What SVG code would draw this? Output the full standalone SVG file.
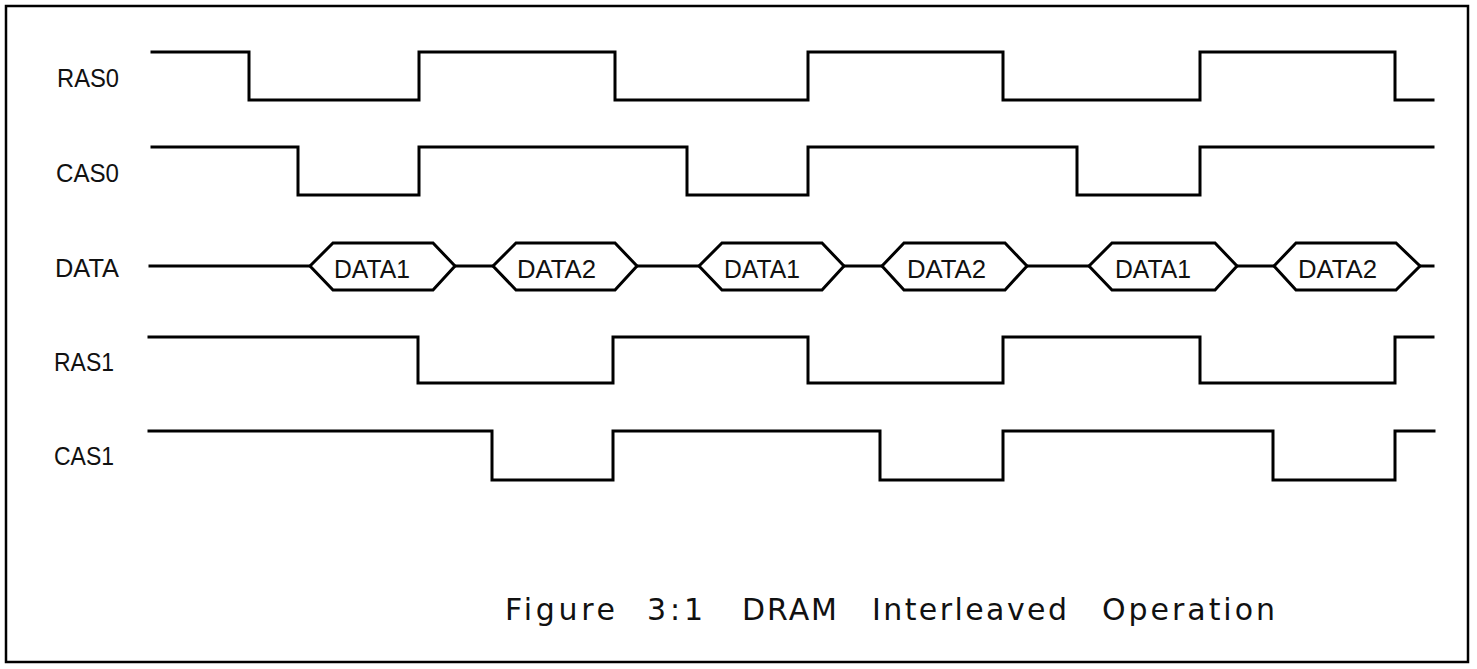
<svg xmlns="http://www.w3.org/2000/svg" width="1477" height="669" viewBox="0 0 1477 669">
<style>
.w{fill:none;stroke:#000;stroke-width:3;stroke-linejoin:miter;stroke-linecap:square}
.lbl{font-family:"Liberation Sans",Arial,sans-serif;font-size:26px;fill:#111}
.hx{fill:#fff;stroke:#000;stroke-width:3;stroke-linejoin:miter}
.cap{font-family:"DejaVu Sans",sans-serif;font-size:30px;fill:#111}
</style>
<rect x="6" y="6" width="1462" height="656" fill="#fff" stroke="#000" stroke-width="2.5"/>
<g id="ras0">
<text class="lbl" x="57" y="87" textLength="62" lengthAdjust="spacingAndGlyphs">RAS0</text>
<path class="w" d="M152,52 H249 V100 H419 V52 H615 V100 H808 V52 H1003 V100 H1200 V52 H1395 V100 H1433"/>
</g>
<g id="cas0">
<text class="lbl" x="56" y="182" textLength="63" lengthAdjust="spacingAndGlyphs">CAS0</text>
<path class="w" d="M152,147 H298 V195 H419 V147 H687 V195 H808 V147 H1077 V195 H1200 V147 H1433"/>
</g>
<g id="data">
<text class="lbl" x="55" y="277" textLength="64" lengthAdjust="spacingAndGlyphs">DATA</text>
<path class="w" d="M150,266 H310 M455,266 H493 M637,266 H699 M844,266 H882 M1027,266 H1089 M1237,266 H1274 M1420,266 H1433"/>
<g id="d1a"><polygon class="hx" points="310,266 333,243 433,243 455,266 433,290 333,290"/><text class="lbl" x="334" y="278" textLength="76" lengthAdjust="spacingAndGlyphs">DATA1</text></g>
<g id="d2a"><polygon class="hx" points="493,266 516,243 615,243 637,266 615,290 516,290"/><text class="lbl" x="517" y="278" textLength="79" lengthAdjust="spacingAndGlyphs">DATA2</text></g>
<g id="d1b"><polygon class="hx" points="699,266 722,243 822,243 844,266 822,290 722,290"/><text class="lbl" x="724" y="278" textLength="76" lengthAdjust="spacingAndGlyphs">DATA1</text></g>
<g id="d2b"><polygon class="hx" points="882,266 904,243 1005,243 1027,266 1005,290 904,290"/><text class="lbl" x="907" y="278" textLength="79" lengthAdjust="spacingAndGlyphs">DATA2</text></g>
<g id="d1c"><polygon class="hx" points="1089,266 1112,243 1215,243 1237,266 1215,290 1112,290"/><text class="lbl" x="1115" y="278" textLength="76" lengthAdjust="spacingAndGlyphs">DATA1</text></g>
<g id="d2c"><polygon class="hx" points="1274,266 1296,243 1396,243 1420,266 1396,290 1296,290"/><text class="lbl" x="1298" y="278" textLength="79" lengthAdjust="spacingAndGlyphs">DATA2</text></g>
</g>
<g id="ras1">
<text class="lbl" x="54" y="371" textLength="60" lengthAdjust="spacingAndGlyphs">RAS1</text>
<path class="w" d="M149,337 H418 V383 H613 V337 H808 V383 H1003 V337 H1200 V383 H1395 V337 H1433"/>
</g>
<g id="cas1">
<text class="lbl" x="54" y="465" textLength="60" lengthAdjust="spacingAndGlyphs">CAS1</text>
<path class="w" d="M149,431 H492 V480 H613 V431 H880 V480 H1003 V431 H1273 V480 H1395 V431 H1434"/>
</g>
<g id="connectors"></g>
<g id="caption">
<text class="cap" y="620"><tspan x="505" textLength="110" lengthAdjust="spacing">Figure</tspan><tspan x="647" textLength="56" lengthAdjust="spacing">3:1</tspan><tspan x="742" textLength="95" lengthAdjust="spacing">DRAM</tspan><tspan x="872" textLength="195" lengthAdjust="spacing">Interleaved</tspan><tspan x="1102" textLength="173" lengthAdjust="spacing">Operation</tspan></text>
</g>
</svg>
